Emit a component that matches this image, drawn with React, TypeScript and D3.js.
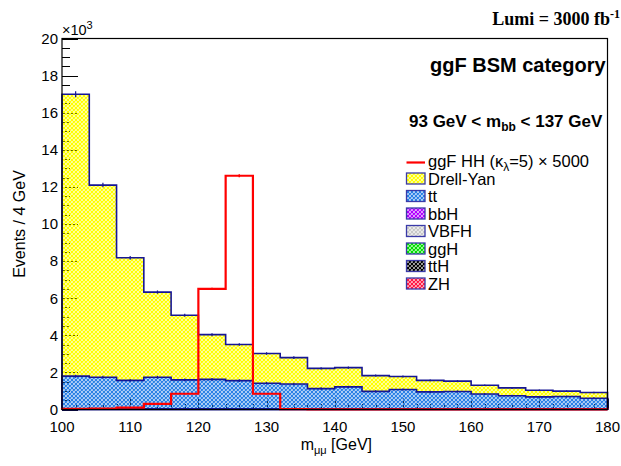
import React from "react";
import * as d3 from "d3";

// ---- data (events per 4 GeV bin) ----
const binLow = [100, 104, 108, 112, 116, 120, 124, 128, 132, 136, 140, 144, 148, 152, 156, 160, 164, 168, 172, 176];
const binWidth = 4;
const xTicks = [100, 110, 120, 130, 140, 150, 160, 170, 180];
const yTicks = [0, 2000, 4000, 6000, 8000, 10000, 12000, 14000, 16000, 18000, 20000];

const drellYan = [15200, 10360, 6610, 4590, 3480, 2410, 1950, 1600, 1420, 1090, 1040, 850, 700, 620, 560, 470, 430, 360, 290, 310];
const ttbar = [1780, 1720, 1550, 1720, 1580, 1600, 1530, 1400, 1360, 1110, 1200, 960, 1060, 930, 950, 820, 720, 660, 680, 590];
const bbH = [2, 2, 2, 2, 2, 3, 3, 2, 2, 2, 2, 2, 2, 2, 2, 2, 2, 2, 2, 2];
const vbfH = [3, 3, 3, 3, 3, 4, 4, 3, 3, 3, 3, 3, 3, 3, 3, 3, 3, 3, 3, 3];
const ggH = [8, 8, 8, 8, 8, 10, 10, 8, 8, 8, 8, 8, 8, 8, 8, 8, 8, 8, 8, 8];
const ttH = [2, 2, 2, 2, 2, 3, 3, 2, 2, 2, 2, 2, 2, 2, 2, 2, 2, 2, 2, 2];
const zH = [3, 3, 3, 3, 3, 4, 4, 3, 3, 3, 3, 3, 3, 3, 3, 3, 3, 3, 3, 3];
const signal = [30, 50, 100, 300, 850, 6500, 12600, 850, 20, 12, 10, 10, 10, 10, 10, 10, 10, 10, 10, 10];

const totalErr = [160, 120, 100, 90, 80, 80, 70, 70, 70, 60, 60, 55, 55, 50, 50, 45, 45, 40, 40, 40];
const ttErr = [80, 80, 75, 80, 75, 75, 75, 70, 70, 65, 65, 60, 60, 60, 60, 55, 55, 50, 50, 50];
const signalErr = [5, 5, 10, 20, 40, 60, 80, 40, 5, 5, 5, 5, 5, 5, 5, 5, 5, 5, 5, 5];

const layers = [
  { key: "ZH", values: zH, color: "#ff1744" },
  { key: "ttH", values: ttH, color: "#000000" },
  { key: "ggH", values: ggH, color: "#00e000" },
  { key: "VBFH", values: vbfH, color: "#c8c8c8" },
  { key: "bbH", values: bbH, color: "#b000ff" },
  { key: "tt", values: ttbar, color: "#2a80e6" },
  { key: "Drell-Yan", values: drellYan, color: "#ffff00" },
];

const legendOrder = ["Drell-Yan", "tt", "bbH", "VBFH", "ggH", "ttH", "ZH"];

const NAVY = "#161694";
const SANS = "'Liberation Sans', Arial, Helvetica, sans-serif";
const SERIF = "'Liberation Serif', 'Times New Roman', serif";

export default function App() {
  const W = 621;
  const H = 466;
  const x = d3.scaleLinear().domain([100, 180]).range([62, 607.5]);
  const y = d3.scaleLinear().domain([0, 20000]).range([409.5, 38.5]);

  let running = binLow.map(() => 0);
  const stacked = layers.map((l) => {
    const lo = running.slice();
    const hi = running.map((v, i) => v + l.values[i]);
    running = hi;
    return { ...l, lo, hi };
  });

  const areaGen = d3
    .area<{ x: number; lo: number; hi: number }>()
    .x((d) => x(d.x))
    .y0((d) => y(d.lo))
    .y1((d) => y(d.hi));

  const lineGen = d3
    .line<{ x: number; v: number }>()
    .x((d) => x(d.x))
    .y((d) => y(d.v));

  const stepPts = (vals: number[]) => {
    const pts: { x: number; v: number }[] = [{ x: binLow[0], v: 0 }];
    vals.forEach((v, i) => {
      pts.push({ x: binLow[i], v });
      pts.push({ x: binLow[i] + binWidth, v });
    });
    pts.push({ x: binLow[binLow.length - 1] + binWidth, v: 0 });
    return pts;
  };

  const areaPts = (lo: number[], hi: number[]) => {
    const pts: { x: number; lo: number; hi: number }[] = [];
    lo.forEach((l, i) => {
      pts.push({ x: binLow[i], lo: l, hi: hi[i] });
      pts.push({ x: binLow[i] + binWidth, lo: l, hi: hi[i] });
    });
    return pts;
  };

  const minorY = d3.range(0, 20001, 500);
  const minorX = d3.range(100, 181, 2);

  const totalTop = stacked[stacked.length - 1].hi;
  const ttTop = stacked[stacked.length - 2].hi;

  const legendRow0 = 161;
  const legendStep = 17.5;
  const pid = (k: string) => `hatch-${k.replace(/[^a-zA-Z]/g, "")}`;

  return (
    <svg width={W} height={H} style={{ position: "absolute", left: 0, top: 0, background: "#fff" }}>
      <defs>
        {layers.map((l) => (
          <pattern key={l.key} id={pid(l.key)} patternUnits="userSpaceOnUse" width={4} height={4}>
            <path d="M0,0L4,4M4,0L0,4M-1,1L1,-1M3,5L5,3M-1,3L1,5M3,-1L5,1" stroke={l.color} strokeWidth={1.25} fill="none" />
          </pattern>
        ))}
      </defs>

      <g stroke="#000" strokeWidth={1}>
        {minorY.map((t) => (
          <line key={`my${t}`} x1={x(100)} x2={x(100) + (t % 2000 === 0 ? 16 : 8)} y1={Math.round(y(t)) + 0.5} y2={Math.round(y(t)) + 0.5} />
        ))}
        {minorX.map((t) => (
          <line key={`mx${t}`} x1={Math.round(x(t)) + 0.5} x2={Math.round(x(t)) + 0.5} y1={y(0)} y2={y(0) - (t % 10 === 0 ? 11 : 5.5)} />
        ))}
      </g>

      {stacked.map((l) => (
        <path key={`a-${l.key}`} d={areaGen(areaPts(l.lo, l.hi)) || ""} fill={`url(#${pid(l.key)})`} stroke="none" />
      ))}

      {stacked.map((l) => (
        <path key={`o-${l.key}`} d={lineGen(stepPts(l.hi)) || ""} fill="none" stroke={NAVY} strokeWidth={1.6} />
      ))}

      <g stroke={NAVY} strokeWidth={1.2}>
        {binLow.map((b, i) => (
          <g key={`e${i}`}>
            <line x1={x(b + binWidth / 2)} x2={x(b + binWidth / 2)} y1={y(totalTop[i] - totalErr[i])} y2={y(totalTop[i] + totalErr[i])} />
            <line x1={x(b + binWidth / 2)} x2={x(b + binWidth / 2)} y1={y(ttTop[i] - ttErr[i])} y2={y(ttTop[i] + ttErr[i])} />
          </g>
        ))}
      </g>

      <path d={lineGen(stepPts(signal)) || ""} fill="none" stroke="#ff0000" strokeWidth={2.2} />
      <g stroke="#ff0000" strokeWidth={1.5}>
        {binLow.map((b, i) => (
          <line key={`se${i}`} x1={x(b + binWidth / 2)} x2={x(b + binWidth / 2)} y1={y(signal[i] - signalErr[i])} y2={y(signal[i] + signalErr[i])} />
        ))}
      </g>

      <rect x={x(100)} y={y(20000)} width={x(180) - x(100)} height={y(0) - y(20000)} fill="none" stroke="#000" strokeWidth={1.2} />

      <g fontFamily={SANS} fontSize={15} textAnchor="end" fill="#000">
        {yTicks.map((t) => (
          <text key={`yl${t}`} x={58} y={y(t) + 5.3}>
            {t / 1000}
          </text>
        ))}
      </g>
      <text x={62} y={35} fontFamily={SANS} fontSize={14.5}>
        ×10<tspan dy={-6} fontSize={11}>3</tspan>
      </text>

      <g fontFamily={SANS} fontSize={15} textAnchor="middle" fill="#000">
        {xTicks.map((t) => (
          <text key={`xl${t}`} x={x(t)} y={432}>
            {t}
          </text>
        ))}
      </g>

      <text x={372} y={450} textAnchor="end" fontFamily={SANS} fontSize={16}>
        m<tspan dy={4} fontSize={11}>μμ</tspan>
        <tspan dy={-4}> [GeV]</tspan>
      </text>
      <text transform={`translate(25,${(y(0) + y(20000)) / 2}) rotate(-90)`} textAnchor="middle" fontFamily={SANS} fontSize={16}>
        Events / 4 GeV
      </text>

      <text x={620} y={25} textAnchor="end" fontFamily={SERIF} fontWeight="bold" fontSize={18}>
        Lumi = 3000 fb<tspan dy={-7} fontSize={12}>-1</tspan>
      </text>
      <text x={430} y={71.5} fontFamily={SANS} fontWeight="bold" fontSize={20}>
        ggF BSM category
      </text>
      <text x={409} y={126.5} fontFamily={SANS} fontWeight="bold" fontSize={17}>
        93 GeV &lt; m<tspan dy={4} fontSize={12}>bb</tspan>
        <tspan dy={-4}> &lt; 137 GeV</tspan>
      </text>

      <g fontFamily={SANS} fontSize={16.5}>
        <line x1={406.5} x2={425} y1={legendRow0 + 1.5} y2={legendRow0 + 1.5} stroke="#ff0000" strokeWidth={2.2} />
        <text x={428} y={legendRow0 + 6}>
          ggF HH (κ<tspan dy={4} fontSize={12}>λ</tspan>
          <tspan dy={-4}>=5) × 5000</tspan>
        </text>
        {legendOrder.map((k, i) => {
          const cy = legendRow0 + legendStep * (i + 1);
          return (
            <g key={`lg${k}`}>
              <rect x={406.5} y={cy - 5.5} width={18.5} height={11} fill={`url(#${pid(k)})`} stroke="#3a3aa8" strokeWidth={1.3} />
              <text x={428} y={cy + 6}>
                {k}
              </text>
            </g>
          );
        })}
      </g>
    </svg>
  );
}
